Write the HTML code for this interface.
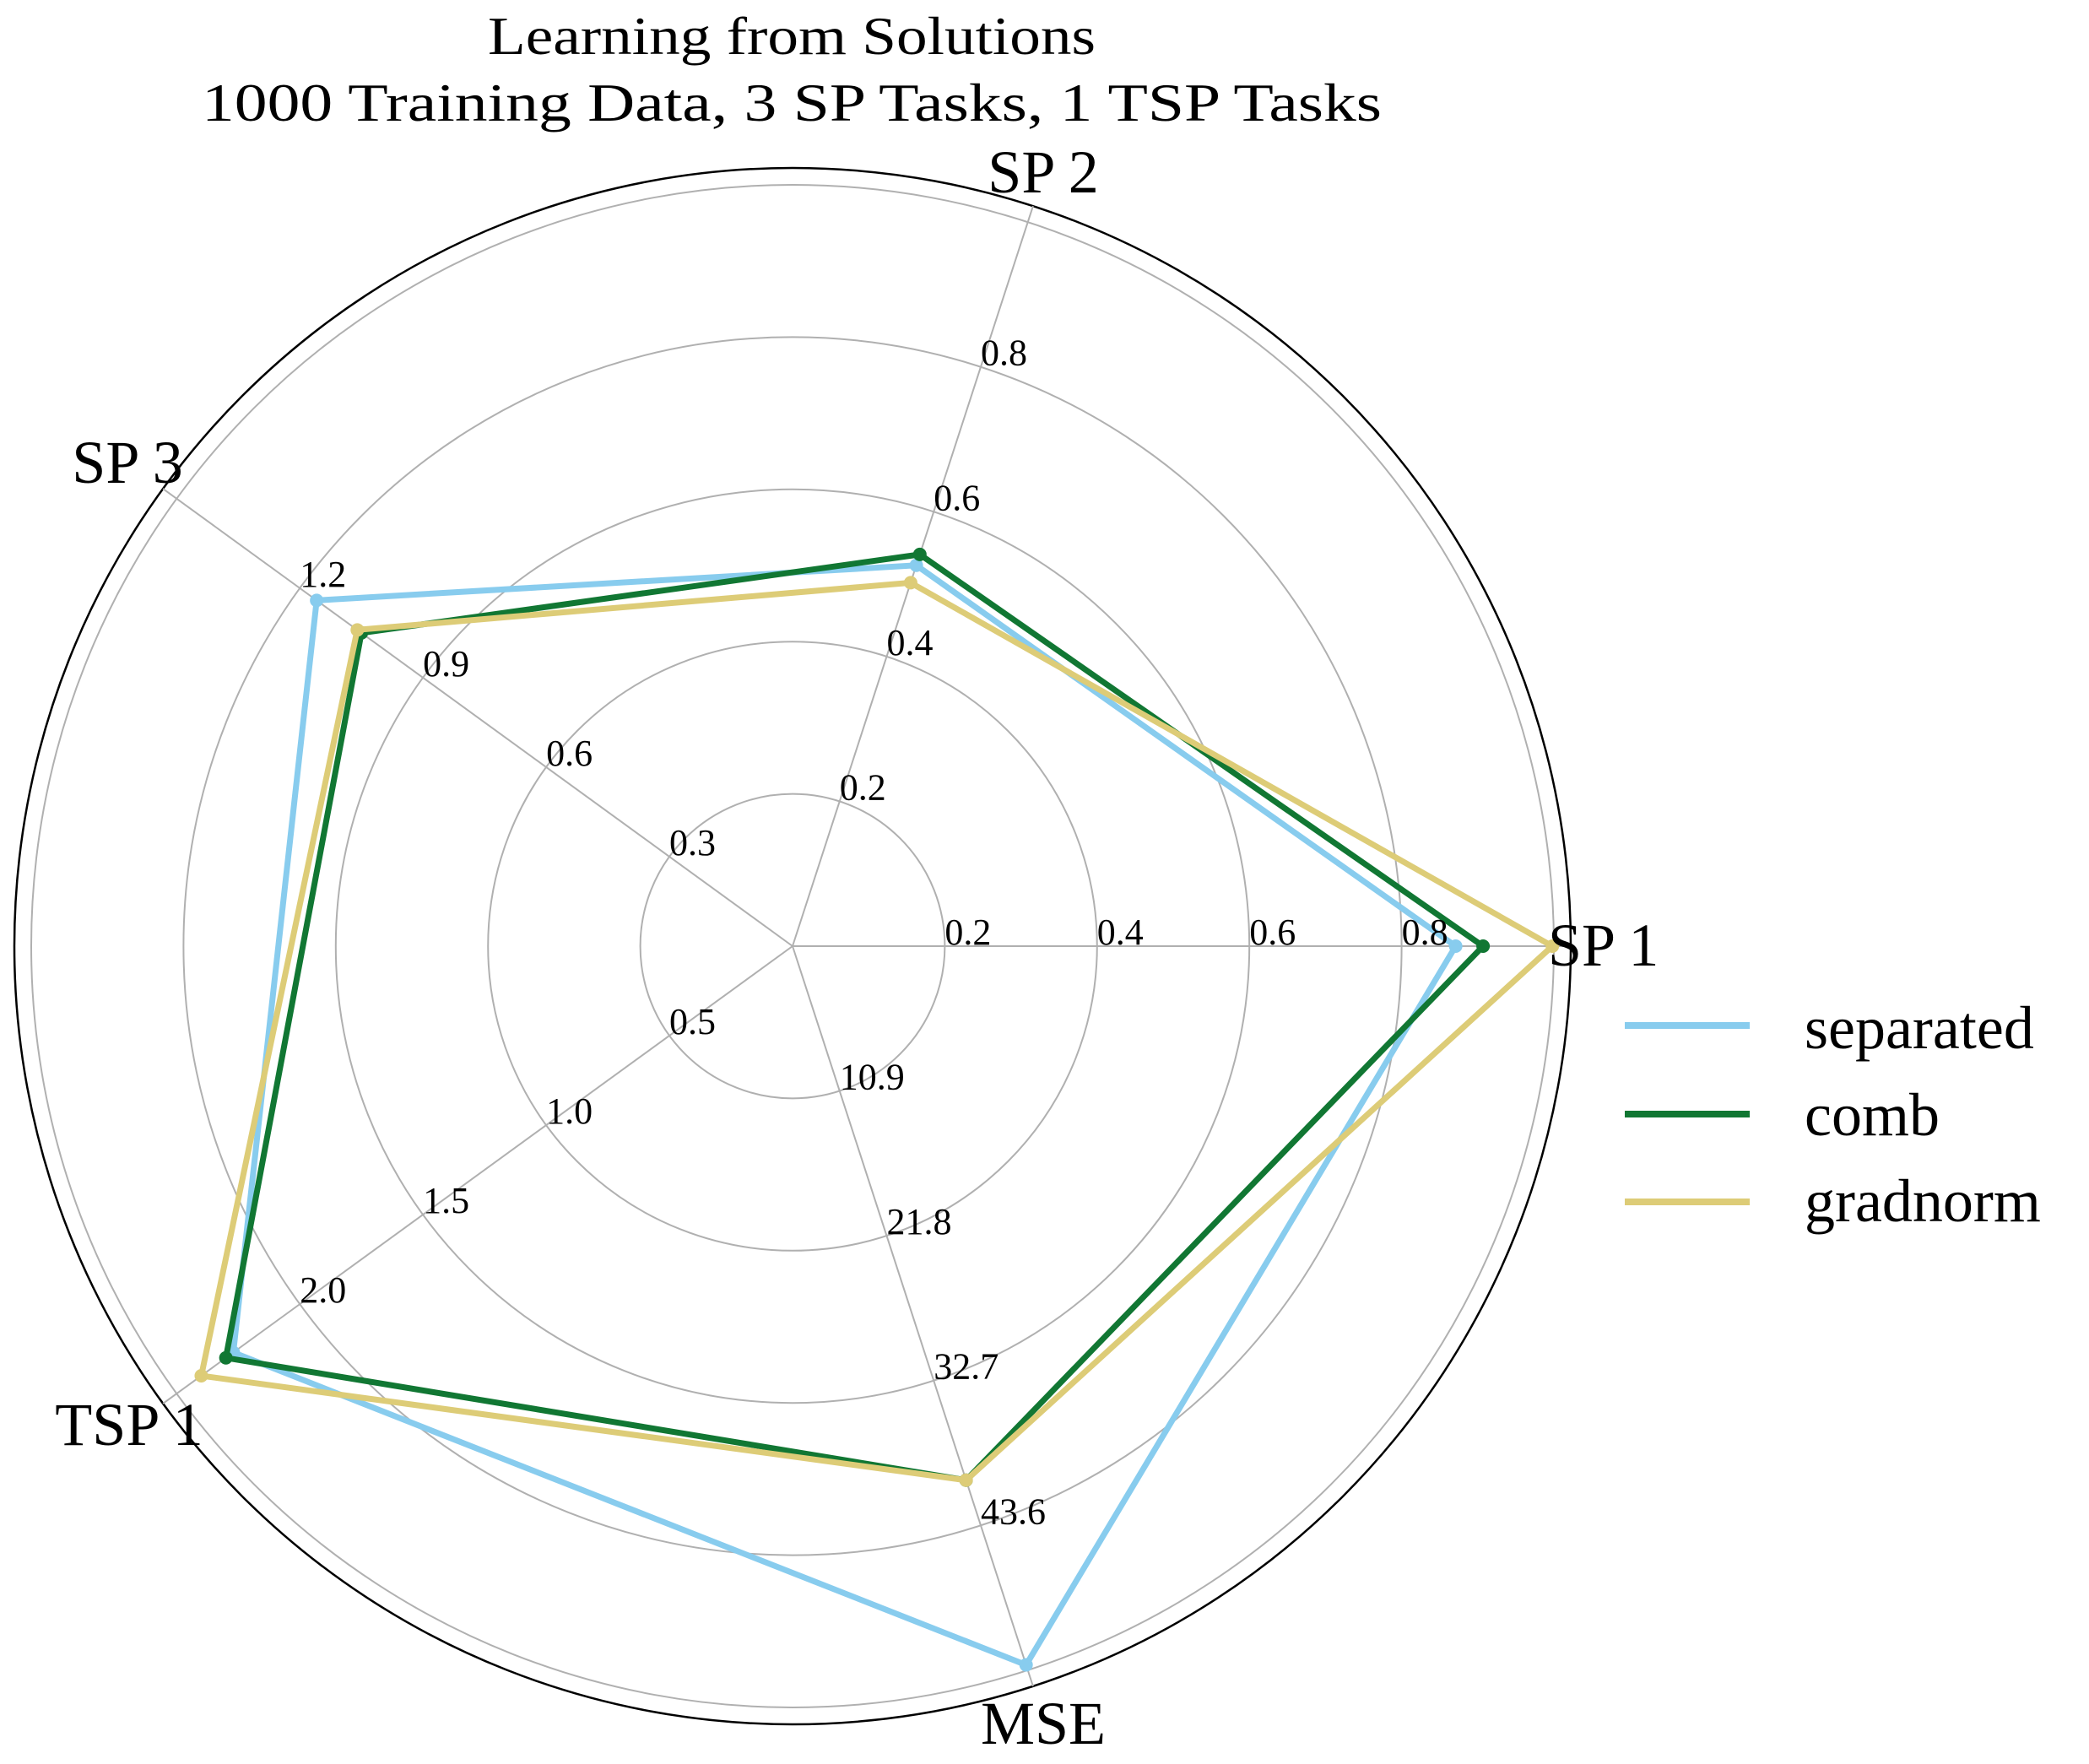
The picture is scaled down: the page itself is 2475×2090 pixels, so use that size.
<!DOCTYPE html>
<html><head><meta charset="utf-8"><style>
html,body{margin:0;padding:0;background:#fff;}
svg{display:block;font-family:"Liberation Serif",serif;}
</style></head><body>
<svg id="chart" width="2475" height="2090" viewBox="0 0 2475 2090" xmlns="http://www.w3.org/2000/svg">
<g id="grid"></g>
<g id="series"></g>
<g id="labels"></g>
<text x="938" y="64" font-size="64" text-anchor="middle" textLength="720" lengthAdjust="spacingAndGlyphs">Learning from Solutions</text>
<text x="938" y="143" font-size="64" text-anchor="middle" textLength="1398" lengthAdjust="spacingAndGlyphs">1000 Training Data, 3 SP Tasks, 1 TSP Tasks</text>
<g>
<line x1="1925" y1="1215" x2="2073" y2="1215" stroke="#88CCEE" stroke-width="8"/>
<text x="2138" y="1242" font-size="72">separated</text>
<line x1="1925" y1="1320" x2="2073" y2="1320" stroke="#117733" stroke-width="8"/>
<text x="2138" y="1345" font-size="72">comb</text>
<line x1="1925" y1="1424" x2="2073" y2="1424" stroke="#DDCC77" stroke-width="8"/>
<text x="2138" y="1447" font-size="72">gradnorm</text>
</g>
</svg>
<script>
const categories = ["SP 1", "SP 2", "SP 3", "TSP 1", "MSE"];
const axisMax = [1.0, 1.0, 1.5, 2.5, 54.5];
const tickLabels = [
  ["0.2","0.4","0.6","0.8"],
  ["0.2","0.4","0.6","0.8"],
  ["0.3","0.6","0.9","1.2"],
  ["0.5","1.0","1.5","2.0"],
  ["10.9","21.8","32.7","43.6"]
];
const separated = [0.871, 0.526, 1.159, 2.27, 54.1];
const comb = [0.907, 0.541, 1.05, 2.30, 40.2];
const gradnorm = [0.998, 0.502, 1.06, 2.40, 40.2];

const NS = "http://www.w3.org/2000/svg";
const cx = 939, cy = 1121, R = 902, Rspine = 922;
const angles = categories.map((c, i) => i * 72 * Math.PI / 180);
function pt(i, frac) {
  return [cx + Math.cos(angles[i]) * frac * R, cy - Math.sin(angles[i]) * frac * R];
}
function mk(tag, attrs, parent) {
  const e = document.createElementNS(NS, tag);
  for (const k in attrs) e.setAttribute(k, attrs[k]);
  parent.appendChild(e);
  return e;
}
const grid = document.getElementById('grid');
const series = document.getElementById('series');
const labels = document.getElementById('labels');

[0.2, 0.4, 0.6, 0.8, 1.0].forEach((f, k) => {
  const c = mk('circle', {cx: cx, cy: cy, r: f * R, fill: 'none', stroke: '#b0b0b0', 'stroke-width': 2}, grid);
  
  
});
const spine = mk('circle', {cx: cx, cy: cy, r: Rspine, fill: 'none', stroke: '#000', 'stroke-width': 2.5}, grid);



categories.forEach((c, i) => {
  const [x, y] = pt(i, Rspine / R);
  const l = mk('line', {x1: cx, y1: cy, x2: x, y2: y, stroke: '#b0b0b0', 'stroke-width': 2}, grid);
  
  
});

tickLabels.forEach((arr, i) => {
  arr.forEach((t, k) => {
    const [x, y] = pt(i, (k + 1) * 0.2);
    const tx = mk('text', {x: x, y: y - 2, 'font-size': 44}, labels);
    tx.textContent = t;
    
    
  });
});

const catPos = [[1834, 1144, 'start'], [1236, 228, 'middle'], [151, 572, 'middle'], [153, 1712, 'middle'], [1236, 2066, 'middle']];
categories.forEach((c, i) => {
  const t = mk('text', {x: catPos[i][0], y: catPos[i][1], 'font-size': 72, 'text-anchor': catPos[i][2]}, labels);
  t.textContent = c;
  
  
});

const seriesList = [["separated", separated, "#88CCEE"], ["comb", comb, "#117733"], ["gradnorm", gradnorm, "#DDCC77"]];
seriesList.forEach(([name, vals, col]) => {
  const pts = vals.map((v, i) => pt(i, v / axisMax[i]));
  const d = pts.map(p => p[0].toFixed(1) + ',' + p[1].toFixed(1)).join(' ');
  const pg = mk('polygon', {points: d, fill: 'none', stroke: col, 'stroke-width': 7, 'stroke-linejoin': 'miter'}, series);
  
  
  pts.forEach((p, i) => {
    const m = mk('circle', {cx: p[0], cy: p[1], r: 8, fill: col}, series);
    
    
  });
});
</script>
</body></html>
